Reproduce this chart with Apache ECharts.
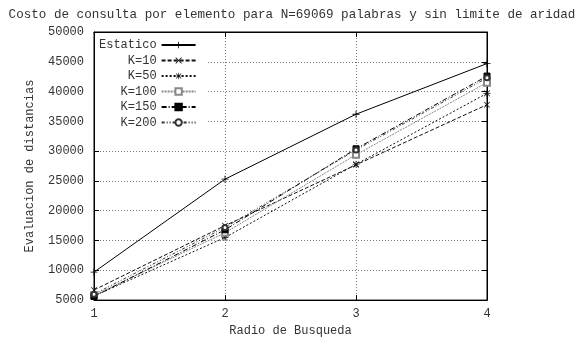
<!DOCTYPE html>
<html>
<head>
<meta charset="utf-8">
<script src="https://cdn.jsdelivr.net/npm/echarts@6/dist/echarts.min.js"></script>
<style>
  html, body { margin: 0; padding: 0; background: #fff; }
  #chart { width: 584px; height: 342px; }
</style>
</head>
<body>
<div id="chart"></div>
<script>
// radio de busqueda
const radios = [1, 2, 3, 4]
// evaluaciones de distancia por serie
const estatico = [9700, 25300, 36200, 44700]
const k10 = [6700, 17500, 27700, 37800]
const k50 = [5700, 15500, 27800, 39700]
const k100 = [5800, 16300, 29400, 41500]
const k150 = [5600, 16800, 30400, 42600]
const k200 = [6000, 17200, 30200, 42300]
const names = ['Estatico', '    K=10', '    K=50', '   K=100', '   K=150', '   K=200']

const FONT = 'Liberation Mono'
const chart = echarts.init(document.getElementById('chart'))

const pts = vals => radios.map((r, i) => [r, vals[i]])

// simbolos estilo gnuplot
const plusSym = 'path://M4.4,0H5.6V4.4H10V5.6H5.6V10H4.4V5.6H0V4.4H4.4Z'
const crossSym = 'path://M0,0.9L0.9,0L5,4.1L9.1,0L10,0.9L5.9,5L10,9.1L9.1,10L5,5.9L0.9,10L0,9.1L4.1,5Z'
const starSym = 'path://M4.5,0H5.5V10H4.5Z M0,4.5H10V5.5H0Z M0.6,1.3L1.3,0.6L9.4,8.7L8.7,9.4Z M8.7,0.6L9.4,1.3L1.3,9.4L0.6,8.7Z'

const mkSeries = (name, vals, color, dash, symbol, size, border) => ({
  name: name,
  type: 'line',
  data: pts(vals),
  symbol: symbol,
  symbolSize: size,
  lineStyle: { color: color, width: 1, type: dash },
  itemStyle: { color: color, borderColor: color, borderWidth: border },
  emphasis: { disabled: true },
  animation: false
})

const axisText = { color: '#333', fontFamily: FONT, fontSize: 12 }

const option = {
  backgroundColor: '#fff',
  title: {
    text: 'Costo de consulta por elemento para N=69069 palabras y sin limite de aridad',
    left: 'center',
    top: 3,
    textStyle: { color: '#333', fontFamily: FONT, fontSize: 12.6, fontWeight: 'normal' }
  },
  legend: {
    orient: 'vertical',
    left: 95,
    top: 33,
    align: 'right',
    itemWidth: 34,
    itemHeight: 8,
    itemGap: 3.5,
    padding: [6, 10, 6, 4],
    backgroundColor: '#fff',
    textStyle: { color: '#333', fontFamily: FONT, fontSize: 12 },
    data: names
  },
  grid: {
    left: 94, right: 97, top: 32, bottom: 39,
    show: true, borderColor: '#000', borderWidth: 1
  },
  xAxis: [{
    type: 'value', min: 1, max: 4, interval: 1,
    name: 'Radio de Busqueda', nameLocation: 'middle', nameGap: 23,
    nameTextStyle: axisText,
    axisLine: { lineStyle: { color: '#000', width: 1 } },
    axisTick: { inside: true, length: 5, lineStyle: { color: '#000' } },
    axisLabel: Object.assign({ margin: 8 }, axisText),
    splitLine: { show: true, lineStyle: { color: '#777', type: [1, 2] } }
  }, {
    type: 'value', min: 1, max: 4, interval: 1, position: 'top',
    axisLine: { lineStyle: { color: '#000' } },
    axisTick: { inside: true, length: 5, lineStyle: { color: '#000' } },
    axisLabel: { show: false }, splitLine: { show: false }
  }],
  yAxis: [{
    type: 'value', min: 5000, max: 50000, interval: 5000,
    name: 'Evaluacion de distancias', nameLocation: 'middle', nameGap: 58,
    nameTextStyle: axisText,
    axisLine: { show: true, lineStyle: { color: '#000' } },
    axisTick: { show: true, inside: true, length: 5, lineStyle: { color: '#000' } },
    axisLabel: Object.assign({ margin: 10, formatter: v => String(v) }, axisText),
    splitLine: { show: true, lineStyle: { color: '#777', type: [1, 2] } }
  }, {
    type: 'value', min: 5000, max: 50000, interval: 5000, position: 'right',
    axisLine: { show: true, lineStyle: { color: '#000' } },
    axisTick: { show: true, inside: true, length: 5, lineStyle: { color: '#000' } },
    axisLabel: { show: false }, splitLine: { show: false }
  }],
  series: [
    mkSeries(names[0], estatico, '#000', 'solid', plusSym, 7, 0),
    mkSeries(names[1], k10, '#111', [4, 2], crossSym, 6, 0),
    mkSeries(names[2], k50, '#111', [2, 2], starSym, 7, 0),
    mkSeries(names[3], k100, '#888', [2, 1], 'emptyRect', 6, 1),
    mkSeries(names[4], k150, '#000', [5, 2, 1, 2], 'rect', 6, 1),
    mkSeries(names[5], k200, '#333', [3, 2, 1, 2, 1, 2], 'emptyCircle', 5, 1)
  ]
}

chart.setOption(option)
</script>
</body>
</html>
